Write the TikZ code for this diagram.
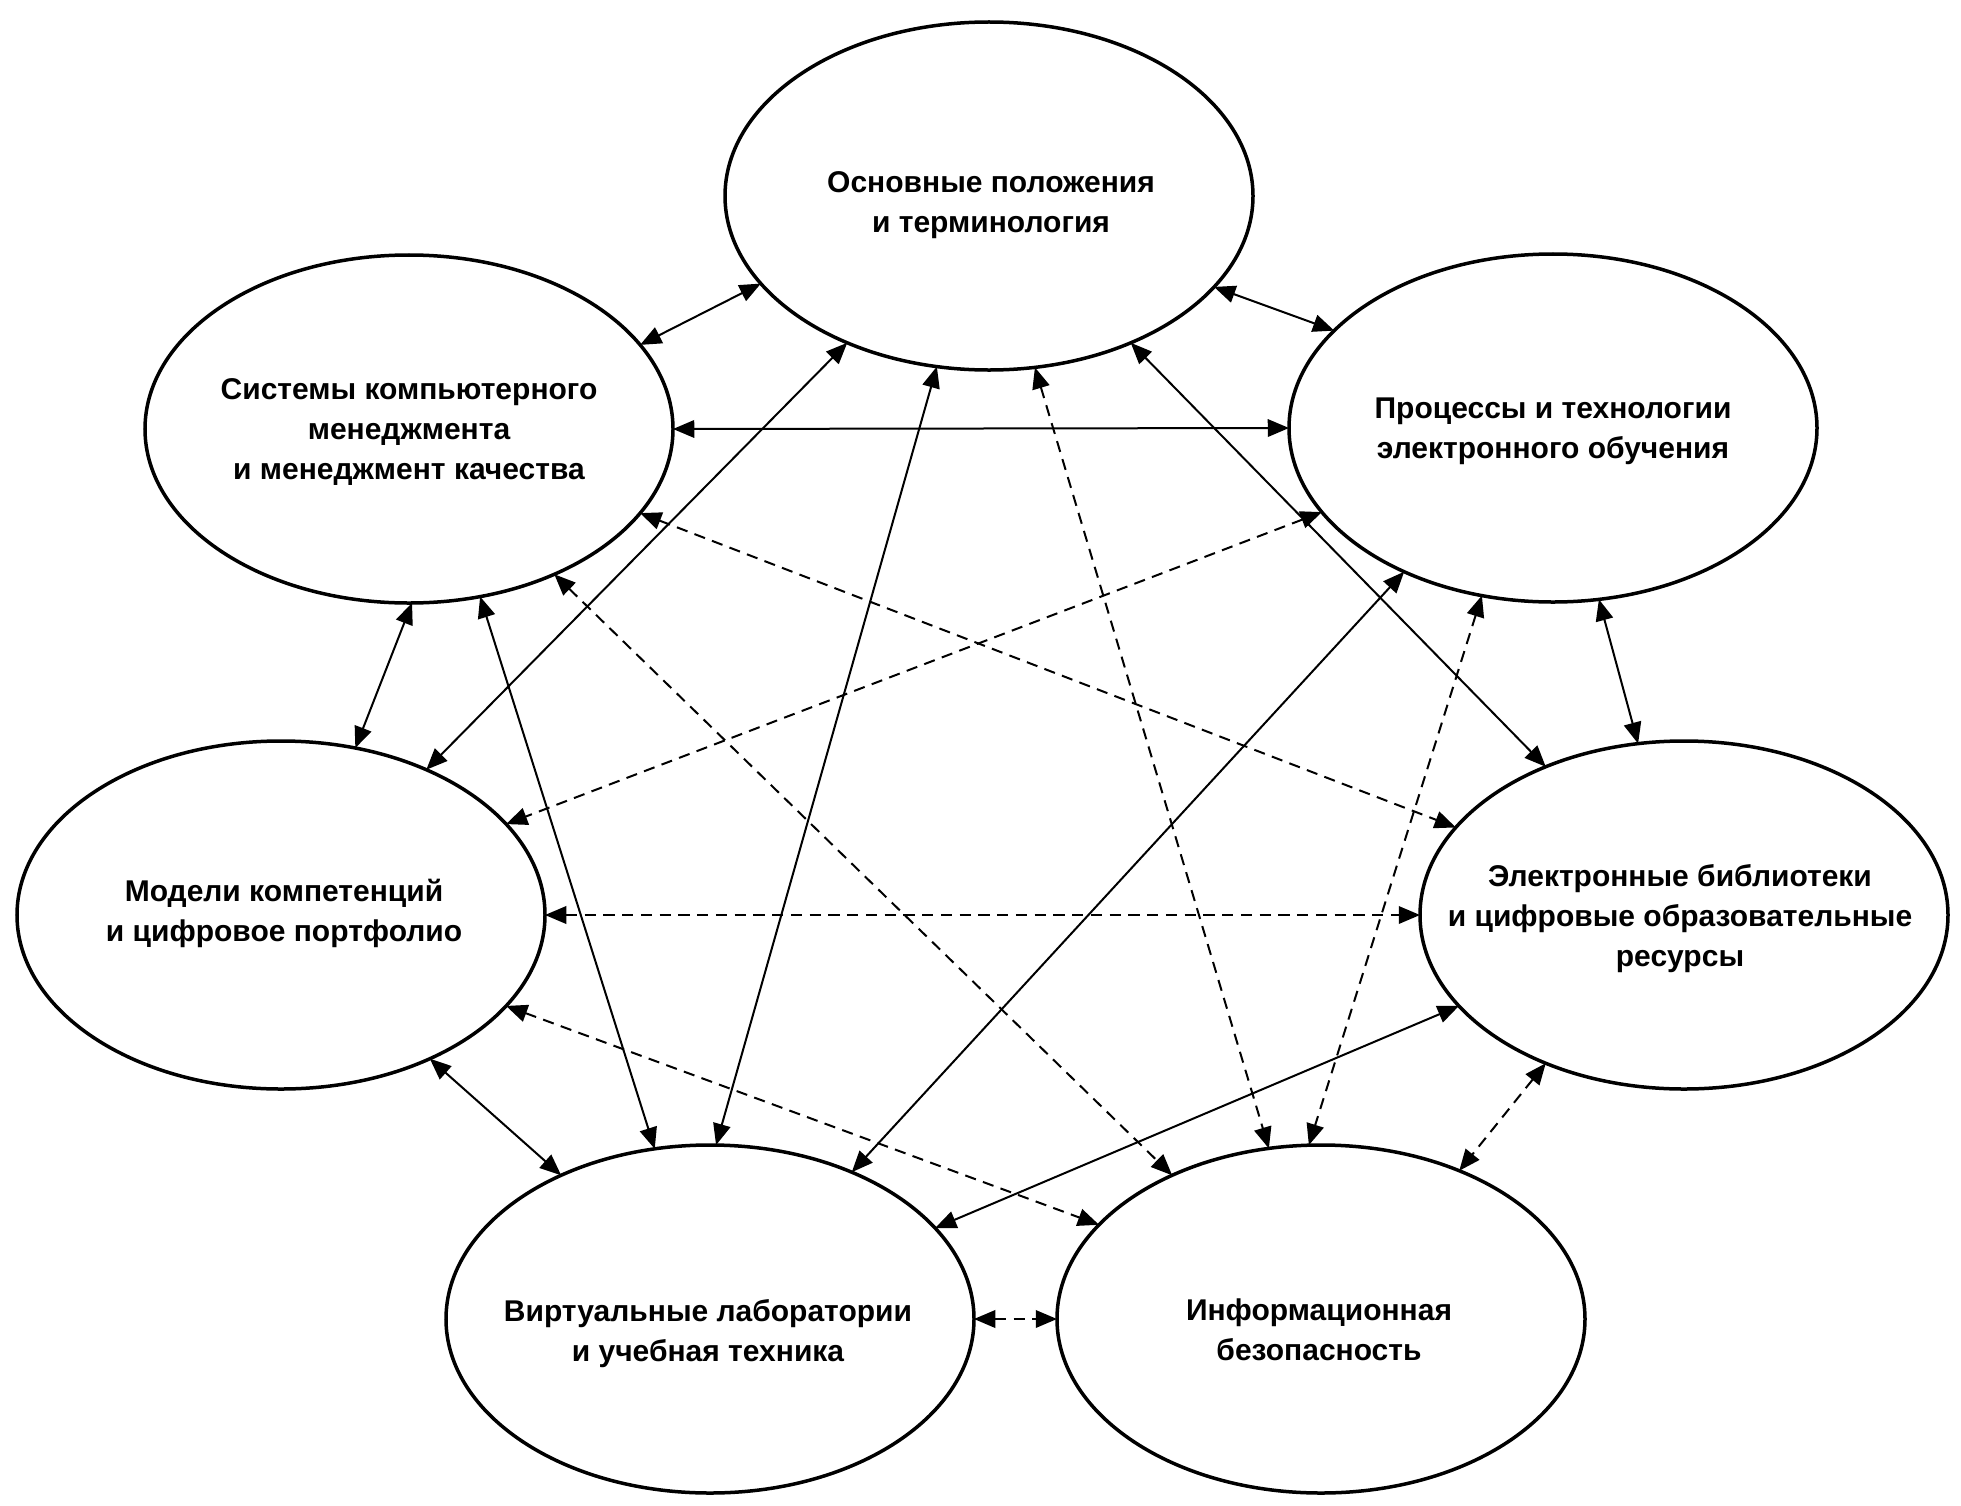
\documentclass[tikz,border=0pt]{standalone}
\usepackage{fontspec}
\setmainfont{Liberation Sans}
\usetikzlibrary{arrows.meta,shapes.geometric}
\begin{document}
\begin{tikzpicture}[x=0.4pt,y=-0.4pt,
  topic/.style={ellipse, draw, line width=1.4pt, minimum width=211.2pt, minimum height=139.2pt, inner sep=0pt, outer sep=0pt},
  lbl/.style={align=center, font=\fontsize{12pt}{16pt}\selectfont\bfseries, inner sep=0pt},
  link/.style={line width=0.8pt, {Triangle[length=8.5pt,width=7pt]}-{Triangle[length=8.5pt,width=7pt]}},
  dlink/.style={link, dash pattern=on 4.5pt off 3pt}]
\useasboundingbox[fill=white] (0,0) rectangle (1961,1506);

\node[topic] (t)  at (989,196) {};
\node[topic] (ul) at (409,429) {};
\node[topic] (ur) at (1553,428) {};
\node[topic] (l)  at (281,915) {};
\node[topic] (r)  at (1684,915) {};
\node[topic] (bl) at (710,1319) {};
\node[topic] (br) at (1321,1319) {};

\node[lbl] (tt)  at (991,205) {Основные положения\\и терминология};
\node[lbl] (ult) at (409,432) {Системы компьютерного\\менеджмента\\и менеджмент качества};
\node[lbl] (urt) at (1553,431) {Процессы и технологии\\электронного обучения};
\node[lbl] (lt)  at (284,913) {Модели компетенций\\и цифровое портфолио};
\node[lbl] (rt)  at (1680,919) {Электронные библиотеки\\и цифровые образовательные\\ресурсы};
\node[lbl] (blt) at (708,1334) {Виртуальные лаборатории\\и учебная техника};
\node[lbl] (brt) at (1319,1330) {Информационная\\безопасность};

\draw[link]  (t.201.7) -- (ul.20.2);
\draw[link]  (t.338.1) -- (ur.156.7);
\draw[link]  (ul.0) -- (ur.180);
\draw[link]  (t.226.4) -- (l.45);
\draw[link]  (t.253.9) -- (bl.88.5);
\draw[link]  (t.314.2) -- (r.133.6);
\draw[dlink] (t.285.5) -- (br.107.3);
\draw[link]  (ul.271.9) -- (l.66.4);
\draw[link]  (ul.293.6) -- (bl.108);
\draw[dlink] (ul.340.4) -- (r.159.6);
\draw[dlink] (ul.315.3) -- (br.136.2);
\draw[dlink] (ur.200) -- (l.22.3);
\draw[link]  (ur.224.8) -- (bl.46.9);
\draw[dlink] (ur.247.4) -- (br.94.5);
\draw[link]  (ur.285.3) -- (r.105.6);
\draw[dlink] (l.0) -- (r.180);
\draw[link]  (l.316) -- (bl.136);
\draw[dlink] (l.338.2) -- (br.157.4);
\draw[link]  (r.202.6) -- (bl.22.2);
\draw[dlink] (r.227.9) -- (br.47.6);
\draw[dlink] (bl.0) -- (br.180);
\end{tikzpicture}
\end{document}
